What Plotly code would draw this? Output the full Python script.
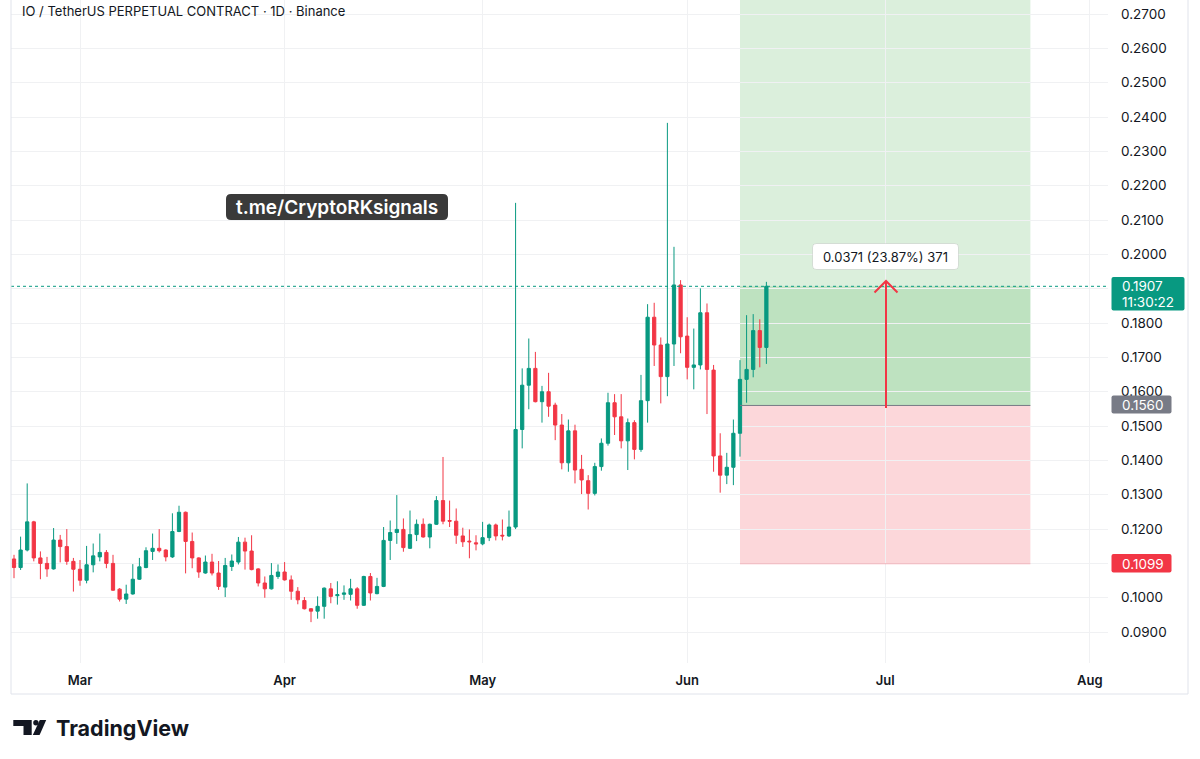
import pandas as pd
import plotly.graph_objects as go

# ---------------- data ----------------
start_date = "2025-02-19"
opens = [0.1113, 0.1088, 0.1139, 0.1221, 0.1116, 0.1100, 0.1084, 0.1168, 0.1149, 0.1106,
         0.1083, 0.1051, 0.1096, 0.1119, 0.1132, 0.1100, 0.1025, 0.0996, 0.1011, 0.1054,
         0.1088, 0.1135, 0.1144, 0.1139, 0.1119, 0.1193, 0.1249, 0.1164, 0.1116, 0.1072,
         0.1104, 0.1072, 0.1031, 0.1091, 0.1104, 0.1162, 0.1136, 0.1084, 0.1043, 0.1026,
         0.1062, 0.1075, 0.1052, 0.1019, 0.0992, 0.0968, 0.0961, 0.0975, 0.1026, 0.1006,
         0.1010, 0.1010, 0.1026, 0.0978, 0.1062, 0.1012, 0.1033, 0.1167, 0.1190, 0.1199,
         0.1144, 0.1184, 0.1214, 0.1177, 0.1214, 0.1283, 0.1225, 0.1223, 0.1180, 0.1165,
         0.1160, 0.1157, 0.1175, 0.1212, 0.1182, 0.1180, 0.1206, 0.1490, 0.1619, 0.1668,
         0.1571, 0.1600, 0.1561, 0.1503, 0.1393, 0.1486, 0.1374, 0.1341, 0.1304, 0.1382,
         0.1450, 0.1568, 0.1527, 0.1457, 0.1510, 0.1432, 0.1574, 0.1817, 0.1736, 0.1644,
         0.1739, 0.1911, 0.1762, 0.1671, 0.1678, 0.1830, 0.1663, 0.1413, 0.1357, 0.1380,
         0.1479, 0.1636, 0.1665, 0.1778, 0.1729]
highs = [0.1125, 0.1178, 0.1333, 0.1224, 0.1135, 0.1119, 0.1203, 0.1183, 0.1200, 0.1116,
         0.1110, 0.1151, 0.1158, 0.1187, 0.1139, 0.1125, 0.1028, 0.1038, 0.1098, 0.1116,
         0.1147, 0.1187, 0.1200, 0.1141, 0.1246, 0.1268, 0.1251, 0.1190, 0.1118, 0.1123,
         0.1128, 0.1107, 0.1116, 0.1126, 0.1177, 0.1175, 0.1182, 0.1086, 0.1062, 0.1101,
         0.1097, 0.1104, 0.1065, 0.1031, 0.1002, 0.0970, 0.1004, 0.1030, 0.1043, 0.1048,
         0.1036, 0.1055, 0.1031, 0.1064, 0.1072, 0.1058, 0.1206, 0.1225, 0.1299, 0.1231,
         0.1254, 0.1228, 0.1231, 0.1216, 0.1296, 0.1410, 0.1283, 0.1260, 0.1204, 0.1199,
         0.1182, 0.1221, 0.1216, 0.1216, 0.1228, 0.1254, 0.2150, 0.1668, 0.1755, 0.1716,
         0.1617, 0.1655, 0.1568, 0.1535, 0.1519, 0.1504, 0.1416, 0.1357, 0.1393, 0.1464,
         0.1597, 0.1593, 0.1593, 0.1522, 0.1517, 0.1649, 0.1855, 0.1859, 0.1758, 0.2383,
         0.2022, 0.1925, 0.1817, 0.1784, 0.1901, 0.1857, 0.1678, 0.1479, 0.1422, 0.1519,
         0.1692, 0.1823, 0.1826, 0.1811, 0.1920]
lows = [0.1057, 0.1081, 0.1135, 0.1106, 0.1054, 0.1061, 0.1082, 0.1103, 0.1096, 0.1018,
        0.1035, 0.1042, 0.1074, 0.1106, 0.1086, 0.1020, 0.0989, 0.0982, 0.1009, 0.1052,
        0.1086, 0.1110, 0.1132, 0.1106, 0.1116, 0.1191, 0.1071, 0.1086, 0.1058, 0.1070,
        0.1065, 0.1023, 0.1002, 0.1078, 0.1097, 0.1082, 0.1080, 0.1033, 0.1000, 0.1024,
        0.1055, 0.1050, 0.0994, 0.0981, 0.0966, 0.0929, 0.0939, 0.0939, 0.0984, 0.0980,
        0.0994, 0.0992, 0.0968, 0.0976, 0.0992, 0.1010, 0.1031, 0.1110, 0.1157, 0.1134,
        0.1142, 0.1165, 0.1175, 0.1144, 0.1212, 0.1214, 0.1206, 0.1157, 0.1148, 0.1115,
        0.1138, 0.1153, 0.1165, 0.1167, 0.1167, 0.1177, 0.1200, 0.1435, 0.1549, 0.1569,
        0.1510, 0.1527, 0.1459, 0.1374, 0.1367, 0.1333, 0.1302, 0.1257, 0.1298, 0.1370,
        0.1443, 0.1474, 0.1435, 0.1372, 0.1403, 0.1425, 0.1510, 0.1675, 0.1566, 0.1587,
        0.1675, 0.1712, 0.1636, 0.1607, 0.1665, 0.1535, 0.1367, 0.1306, 0.1331, 0.1328,
        0.1411, 0.1568, 0.1642, 0.1671, 0.1681]
closes = [0.1088, 0.1139, 0.1221, 0.1116, 0.1100, 0.1084, 0.1168, 0.1149, 0.1106, 0.1083,
          0.1051, 0.1096, 0.1122, 0.1132, 0.1100, 0.1022, 0.0996, 0.1011, 0.1054, 0.1090,
          0.1137, 0.1144, 0.1137, 0.1119, 0.1193, 0.1249, 0.1164, 0.1116, 0.1075, 0.1104,
          0.1072, 0.1033, 0.1094, 0.1107, 0.1162, 0.1136, 0.1082, 0.1043, 0.1026, 0.1065,
          0.1075, 0.1052, 0.1019, 0.0994, 0.0968, 0.0961, 0.0975, 0.1028, 0.1004, 0.1009,
          0.1014, 0.1026, 0.0978, 0.1062, 0.1014, 0.1033, 0.1167, 0.1190, 0.1199, 0.1146,
          0.1184, 0.1214, 0.1177, 0.1214, 0.1283, 0.1223, 0.1223, 0.1182, 0.1163, 0.1163,
          0.1157, 0.1175, 0.1212, 0.1180, 0.1180, 0.1206, 0.1490, 0.1619, 0.1668, 0.1571,
          0.1600, 0.1558, 0.1503, 0.1393, 0.1486, 0.1372, 0.1343, 0.1304, 0.1382, 0.1450,
          0.1568, 0.1527, 0.1457, 0.1510, 0.1432, 0.1574, 0.1817, 0.1736, 0.1644, 0.1739,
          0.1911, 0.1760, 0.1671, 0.1678, 0.1830, 0.1665, 0.1413, 0.1357, 0.1380, 0.1479,
          0.1636, 0.1665, 0.1778, 0.1729, 0.1907]
dates = pd.date_range(start_date, periods=len(closes), freq="D")

price_ticks = [0.09, 0.10, 0.11, 0.12, 0.13, 0.14, 0.15, 0.16, 0.17, 0.18,
               0.19, 0.20, 0.21, 0.22, 0.23, 0.24, 0.25, 0.26, 0.27]
# 0.1100 and 0.1900 are hidden behind the stop / last-price labels in the original
hidden_ticks = [0.11, 0.19]
price_tick_text = ["" if v in hidden_ticks else f"{v:.4f}" for v in price_ticks]
month_ticks = ["2025-03-01", "2025-04-01", "2025-05-01", "2025-06-01", "2025-07-01", "2025-08-01"]
month_labels = ["Mar", "Apr", "May", "Jun", "Jul", "Aug"]

last_price = 0.1907
countdown = "11:30:22"
entry_price = 0.1560
stop_price = 0.1099
target_price = 0.2800
pos_start = "2025-06-09"
pos_end = "2025-07-23"
measure_text = "0.0371 (23.87%) 371"
title_text = "IO / TetherUS PERPETUAL CONTRACT · 1D · Binance"
watermark_text = "t.me/CryptoRKsignals"

# ---------------- layout helpers (pixels -> paper) ----------------
W, H = 1200, 759
PL, PR, PT, PB = 11, 1108, 0, 663


def fx(px):
    return (px - PL) / (PR - PL)


def fy(py):
    return (PB - py) / (PB - PT)


def rrect(x0, y0, x1, y1, r):
    return (f"M {fx(x0 + r)},{fy(y0)} L {fx(x1 - r)},{fy(y0)} "
            f"Q {fx(x1)},{fy(y0)} {fx(x1)},{fy(y0 + r)} L {fx(x1)},{fy(y1 - r)} "
            f"Q {fx(x1)},{fy(y1)} {fx(x1 - r)},{fy(y1)} L {fx(x0 + r)},{fy(y1)} "
            f"Q {fx(x0)},{fy(y1)} {fx(x0)},{fy(y1 - r)} L {fx(x0)},{fy(y0 + r)} "
            f"Q {fx(x0)},{fy(y0)} {fx(x0 + r)},{fy(y0)} Z")


UP = "#089981"
DOWN = "#F23645"
TXT = "#131722"
GRID = "#f0f1f3"
FONT = "Inter"

fig = go.Figure()
fig.add_trace(go.Candlestick(
    x=dates, open=opens, high=highs, low=lows, close=closes,
    increasing=dict(line=dict(color=UP, width=1), fillcolor=UP),
    decreasing=dict(line=dict(color=DOWN, width=1), fillcolor=DOWN),
    whiskerwidth=0, showlegend=False, hoverinfo="skip",
))

shapes = []
# position tool
shapes.append(dict(type="rect", xref="x", yref="y", x0=pos_start, x1=pos_end,
                   y0=entry_price, y1=target_price, fillcolor="rgba(76,175,80,0.2)",
                   line=dict(width=0), layer="below"))
shapes.append(dict(type="rect", xref="x", yref="y", x0=pos_start, x1=pos_end,
                   y0=entry_price, y1=last_price, fillcolor="rgba(76,175,80,0.2)",
                   line=dict(width=0), layer="below"))
shapes.append(dict(type="rect", xref="x", yref="y", x0=pos_start, x1=pos_end,
                   y0=stop_price, y1=entry_price, fillcolor="rgba(242,54,69,0.2)",
                   line=dict(width=0), layer="below"))
shapes.append(dict(type="line", xref="x", yref="y", x0=pos_start, x1=pos_end,
                   y0=entry_price, y1=entry_price, line=dict(color="#787B86", width=1)))
shapes.append(dict(type="line", xref="x", yref="y", x0=pos_start, x1=pos_end,
                   y0=stop_price, y1=stop_price, line=dict(color="rgba(242,54,69,0.35)", width=1)))
# last price dotted line
shapes.append(dict(type="line", xref="paper", yref="y", x0=0, x1=1,
                   y0=last_price, y1=last_price, line=dict(color=UP, width=1, dash="dot")))
# measurement arrow
shapes.append(dict(type="line", xref="paper", yref="paper", x0=fx(886), x1=fx(886),
                   y0=fy(408), y1=fy(281), line=dict(color=DOWN, width=2)))
shapes.append(dict(type="path", xref="paper", yref="paper",
                   path=f"M {fx(874.5)},{fy(292.5)} L {fx(886)},{fy(281)} L {fx(897.5)},{fy(292.5)}",
                   line=dict(color=DOWN, width=2)))
# measurement label box
shapes.append(dict(type="path", xref="paper", yref="paper",
                   path=rrect(812.5, 243.5, 958.5, 269.5, 4),
                   fillcolor="white", line=dict(color="rgba(0,0,0,0.10)", width=1)))
# watermark box
shapes.append(dict(type="path", xref="paper", yref="paper",
                   path=rrect(226, 194, 448, 220, 5),
                   fillcolor="#3a3a3a", line=dict(width=0)))
# price labels on axis
shapes.append(dict(type="path", xref="paper", yref="paper",
                   path=rrect(1111.5, 277, 1184.5, 310.5, 2), fillcolor=UP, line=dict(width=0)))
shapes.append(dict(type="path", xref="paper", yref="paper",
                   path=rrect(1111.5, 395.5, 1171.5, 413.5, 2), fillcolor="#787B86", line=dict(width=0)))
shapes.append(dict(type="path", xref="paper", yref="paper",
                   path=rrect(1111.5, 554, 1171.5, 572.5, 2), fillcolor=DOWN, line=dict(width=0)))
# pane borders
for (x0, y0, x1, y1) in [(11, 0, 11, 694), (11, 694, 1188, 694), (1188, 0, 1188, 694)]:
    shapes.append(dict(type="line", xref="paper", yref="paper", x0=fx(x0), x1=fx(x1),
                       y0=fy(y0), y1=fy(y1), line=dict(color="#e0e3eb", width=1)))
# TradingView logo
shapes.append(dict(type="path", xref="paper", yref="paper",
                   path=(f"M {fx(13.3)},{fy(720)} L {fx(31.7)},{fy(720)} L {fx(31.7)},{fy(735)} "
                         f"L {fx(23.5)},{fy(735)} L {fx(23.5)},{fy(726)} L {fx(13.3)},{fy(726)} Z"),
                   fillcolor=TXT, line=dict(width=0)))
shapes.append(dict(type="circle", xref="paper", yref="paper",
                   x0=fx(33.2), x1=fx(38.6), y0=fy(720), y1=fy(725.4),
                   fillcolor=TXT, line=dict(width=0)))
shapes.append(dict(type="path", xref="paper", yref="paper",
                   path=(f"M {fx(39.8)},{fy(720)} L {fx(46.2)},{fy(720)} L {fx(39.6)},{fy(735)} "
                         f"L {fx(32.8)},{fy(735)} Z"),
                   fillcolor=TXT, line=dict(width=0)))

annotations = [
    dict(text=title_text, xref="paper", yref="paper", x=fx(20), y=fy(11),
         xanchor="left", yanchor="middle", showarrow=False,
         font=dict(family=FONT, size=13, color=TXT)),
    dict(text=watermark_text, xref="paper", yref="paper", x=fx(337), y=fy(207.5),
         xanchor="center", yanchor="middle", showarrow=False,
         font=dict(family=FONT, size=19, color="white", weight=600)),
    dict(text=measure_text, xref="paper", yref="paper", x=fx(885.5), y=fy(256.5),
         xanchor="center", yanchor="middle", showarrow=False,
         font=dict(family=FONT, size=13, color=TXT)),
    dict(text=f"{last_price:.4f}", xref="paper", yref="paper", x=fx(1120), y=fy(286),
         xanchor="left", yanchor="middle", showarrow=False,
         font=dict(family=FONT, size=13.5, color="white")),
    dict(text=countdown, xref="paper", yref="paper", x=fx(1120), y=fy(301.5),
         xanchor="left", yanchor="middle", showarrow=False,
         font=dict(family=FONT, size=13.5, color="white")),
    dict(text=f"{entry_price:.4f}", xref="paper", yref="paper", x=fx(1120), y=fy(404.5),
         xanchor="left", yanchor="middle", showarrow=False,
         font=dict(family=FONT, size=13.5, color="white")),
    dict(text=f"{stop_price:.4f}", xref="paper", yref="paper", x=fx(1120), y=fy(563.5),
         xanchor="left", yanchor="middle", showarrow=False,
         font=dict(family=FONT, size=13.5, color="white")),
    dict(text="TradingView", xref="paper", yref="paper", x=fx(54), y=fy(727.5),
         xanchor="left", yanchor="middle", showarrow=False,
         font=dict(family=FONT, size=21.5, color=TXT, weight=700)),
]

fig.update_layout(
    width=W, height=H,
    margin=dict(l=PL, r=W - PR, t=PT, b=H - PB, pad=0),
    paper_bgcolor="white", plot_bgcolor="white",
    shapes=shapes, annotations=annotations,
    showlegend=False,
    xaxis=dict(
        type="date", range=["2025-02-18 13:05", "2025-08-03 18:14"],
        rangeslider=dict(visible=False),
        tickvals=month_ticks, ticktext=month_labels,
        showgrid=True, gridcolor=GRID, gridwidth=1,
        showline=False, zeroline=False, ticks="",
        ticklabelstandoff=8,
        tickfont=dict(family=FONT, size=13, color=TXT, weight=600),
        fixedrange=True,
    ),
    yaxis=dict(
        side="right", range=[0.0810, 0.27408],
        tickvals=price_ticks, ticktext=price_tick_text,
        showgrid=True, gridcolor=GRID, gridwidth=1,
        showline=False, zeroline=False, ticks="",
        ticklabelstandoff=12,
        tickfont=dict(family=FONT, size=13.5, color=TXT),
        fixedrange=True,
    ),
)

fig.write_html("out.html", config={"displayModeBar": False},
               post_script="document.body.style.margin='0px';")
